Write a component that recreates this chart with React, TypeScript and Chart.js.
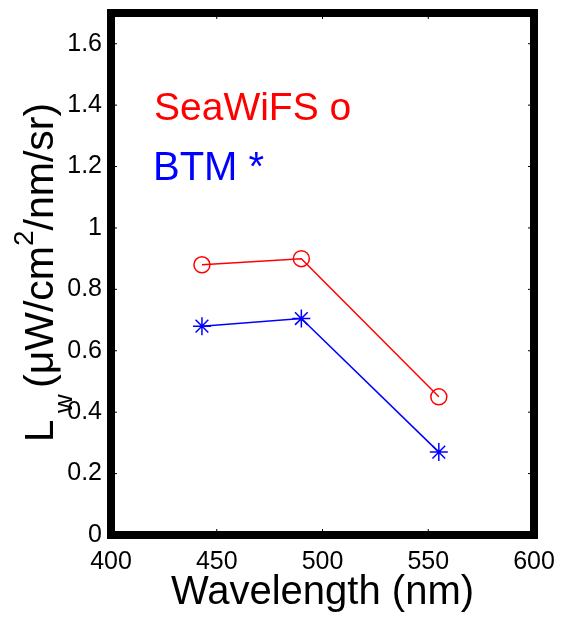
import { useEffect, useRef } from "react";
import { Chart, registerables } from "chart.js";

Chart.register(...registerables);

const FONT = '"Liberation Sans", Arial, sans-serif';

const wavelengths = [443, 490, 555];
const seawifsLw = [0.88, 0.9, 0.45];
const btmLw = [0.68, 0.705, 0.27];
const xTicks = [400, 450, 500, 550, 600];
const yTicks = [0, 0.2, 0.4, 0.6, 0.8, 1.0, 1.2, 1.4, 1.6];
const xLabel = "Wavelength (nm)";
const yLabelMain = "L";
const yLabelSub = "w";
const yLabelUnitsA = "(μW/cm";
const yLabelSup = "2";
const yLabelUnitsB = "/nm/sr)";
const legendLabels = ["SeaWiFS o", "BTM *"];
const seriesColors = ["#ff0000", "#0000ff"];

const framePlugin = {
  id: "frame",
  afterDraw(chart: any) {
    const { ctx, chartArea: a, scales } = chart;
    ctx.save();
    // small inward tick marks
    ctx.strokeStyle = "#000";
    ctx.lineWidth = 1;
    ctx.beginPath();
    for (const v of xTicks) {
      const x = scales.x.getPixelForValue(v);
      ctx.moveTo(x, a.bottom);
      ctx.lineTo(x, a.bottom - 6);
      ctx.moveTo(x, a.top);
      ctx.lineTo(x, a.top + 6);
    }
    for (const v of yTicks) {
      const y = scales.y.getPixelForValue(v);
      ctx.moveTo(a.left, y);
      ctx.lineTo(a.left + 6, y);
      ctx.moveTo(a.right, y);
      ctx.lineTo(a.right - 6, y);
    }
    ctx.stroke();
    // thick frame
    ctx.lineWidth = 8;
    ctx.strokeRect(a.left, a.top, a.right - a.left, a.bottom - a.top);

    // legend-like annotations
    ctx.textAlign = "left";
    ctx.textBaseline = "alphabetic";
    ctx.font = `39px ${FONT}`;
    ctx.fillStyle = seriesColors[0];
    ctx.fillText(legendLabels[0], a.left + 43, a.top + 107);
    ctx.font = `40px ${FONT}`;
    ctx.fillStyle = seriesColors[1];
    ctx.fillText(legendLabels[1], a.left + 42, a.top + 167);

    // y-axis title (rotated, with sub/superscripts)
    ctx.translate(a.left - 58, a.bottom - 93);
    ctx.rotate(-Math.PI / 2);
    ctx.fillStyle = "#000";
    ctx.font = `40px ${FONT}`;
    ctx.fillText(yLabelMain, 0, 0);
    ctx.font = `26px ${FONT}`;
    ctx.fillText(yLabelSub, 29, 19);
    let x = 54;
    ctx.font = `41px ${FONT}`;
    ctx.fillText(yLabelUnitsA, x, 0);
    x += ctx.measureText(yLabelUnitsA).width;
    ctx.font = `28px ${FONT}`;
    ctx.fillText(yLabelSup, x, -20);
    x += ctx.measureText(yLabelSup).width;
    ctx.font = `41px ${FONT}`;
    ctx.fillText(yLabelUnitsB, x, 0);
    ctx.restore();
  },
};

export default function App() {
  const ref = useRef<HTMLCanvasElement | null>(null);

  useEffect(() => {
    if (!ref.current) return;
    const chart = new Chart(ref.current, {
      type: "line",
      data: {
        datasets: [
          {
            label: "SeaWiFS",
            data: wavelengths.map((w, i) => ({ x: w, y: seawifsLw[i] })),
            borderColor: seriesColors[0],
            borderWidth: 1.5,
            pointStyle: "circle",
            pointRadius: 8,
            pointBorderColor: seriesColors[0],
            pointBackgroundColor: "rgba(0,0,0,0)",
            pointBorderWidth: 1.5,
            fill: false,
          },
          {
            label: "BTM",
            data: wavelengths.map((w, i) => ({ x: w, y: btmLw[i] })),
            borderColor: seriesColors[1],
            borderWidth: 1.5,
            pointStyle: "star",
            pointRadius: 9,
            pointBorderColor: seriesColors[1],
            pointBackgroundColor: seriesColors[1],
            pointBorderWidth: 1.5,
            fill: false,
          },
        ],
      },
      options: {
        responsive: false,
        animation: false,
        events: [],
        layout: { padding: { top: 13, right: 29, left: 0, bottom: 0 } },
        plugins: {
          legend: { display: false },
          tooltip: { enabled: false },
        },
        scales: {
          x: {
            type: "linear",
            min: 400,
            max: 600,
            grid: { display: false, drawTicks: false, tickLength: 0 },
            border: { display: false },
            afterBuildTicks: (s: any) => {
              s.ticks = xTicks.map((v) => ({ value: v }));
            },
            afterFit: (s: any) => {
              s.height = 83;
              s.paddingLeft = 0;
              s.paddingRight = 0;
            },
            ticks: {
              color: "#000",
              padding: 12,
              maxRotation: 0,
              font: { family: FONT, size: 25 },
              callback: (v: any) => String(v),
            },
            title: {
              display: true,
              text: xLabel,
              color: "#000",
              font: { family: FONT, size: 40 },
              padding: { top: 0, bottom: 1 },
            },
          },
          y: {
            type: "linear",
            min: 0,
            max: 1.7,
            grid: { display: false, drawTicks: false, tickLength: 0 },
            border: { display: false },
            afterBuildTicks: (s: any) => {
              s.ticks = yTicks.map((v) => ({ value: v }));
            },
            afterFit: (s: any) => {
              s.width = 111;
              s.paddingTop = 0;
              s.paddingBottom = 0;
            },
            ticks: {
              color: "#000",
              padding: 9,
              font: { family: FONT, size: 25 },
              callback: (v: any) => String(Math.round(Number(v) * 10) / 10),
            },
          },
        },
      },
      plugins: [framePlugin],
    } as any);
    return () => chart.destroy();
  }, []);

  return (
    <div style={{ position: "fixed", left: 0, top: 0, width: 563, height: 618, background: "#fff" }}>
      <canvas ref={ref} width={563} height={618} style={{ display: "block" }} />
    </div>
  );
}
